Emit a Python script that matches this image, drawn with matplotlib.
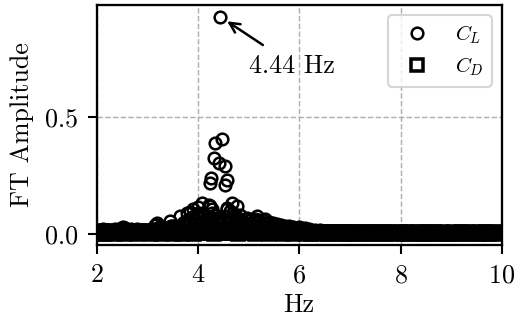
import numpy as np
import matplotlib
matplotlib.use("Agg")
import matplotlib.pyplot as plt

plt.rcParams["font.family"] = "serif"
plt.rcParams["font.serif"] = ["cmr10", "DejaVu Serif"]
plt.rcParams["mathtext.fontset"] = "cm"
plt.rcParams["axes.formatter.use_mathtext"] = True
plt.rcParams["font.size"] = 12

# FFT bins between 2 and 10 Hz
freq = np.round(np.linspace(2.0, 10.0, 201), 2)

# lift coefficient spectrum
cl_amp = [
    0.018, 0.009, 0.014, 0.020, 0.011, 0.016, 0.019, 0.008, 0.015, 0.021, 0.012, 0.017, 0.027,
    0.031, 0.024, 0.013, 0.019, 0.022, 0.010, 0.018, 0.020, 0.014, 0.019, 0.011, 0.016,
    0.015, 0.009, 0.017, 0.022, 0.038, 0.046, 0.028, 0.017, 0.021, 0.013, 0.024, 0.031, 0.035,
    0.022, 0.018, 0.029, 0.036, 0.044, 0.050, 0.041, 0.062, 0.058, 0.071, 0.064, 0.083,
    0.092, 0.071, 0.055, 0.078, 0.046, 0.063, 0.052, 0.088, 0.041, 0.066, 0.058, 0.072, 0.049,
    0.061, 0.079, 0.054, 0.097, 0.062, 0.075, 0.058, 0.068, 0.052, 0.061, 0.046, 0.058,
    0.064, 0.049, 0.057, 0.066, 0.052, 0.061, 0.044, 0.058, 0.063, 0.047, 0.052, 0.041, 0.046,
    0.038, 0.043, 0.034, 0.039, 0.031, 0.036, 0.028, 0.033, 0.026, 0.030, 0.022, 0.027,
    0.029, 0.024, 0.021, 0.025, 0.018, 0.022, 0.019, 0.015, 0.017, 0.012, 0.016, 0.014, 0.010,
    0.015, 0.013, 0.009, 0.014, 0.012, 0.015, 0.008, 0.013, 0.011, 0.014, 0.009, 0.012,
    0.013, 0.010, 0.007, 0.012, 0.009, 0.013, 0.006, 0.011, 0.010, 0.012, 0.008, 0.013, 0.009,
    0.011, 0.007, 0.012, 0.010, 0.013, 0.008, 0.011, 0.009, 0.012, 0.006, 0.010, 0.012,
    0.009, 0.011, 0.007, 0.012, 0.010, 0.008, 0.012, 0.009, 0.011, 0.006, 0.010, 0.012, 0.008,
    0.011, 0.009, 0.012, 0.007, 0.010, 0.011, 0.008, 0.012, 0.009, 0.010, 0.006, 0.011,
    0.010, 0.008, 0.011, 0.009, 0.012, 0.007, 0.010, 0.011, 0.008, 0.012, 0.009, 0.010, 0.006,
    0.011, 0.009, 0.012, 0.008, 0.010, 0.011, 0.007, 0.010, 0.012, 0.008, 0.011, 0.009,
    0.010,
]

# drag coefficient spectrum
cd_amp = [
    0.008, 0.002, 0.011, 0.005, 0.001, 0.009, 0.004, 0.012, 0.006, 0.002, 0.010, 0.003, 0.013,
    0.007, 0.001, 0.009, 0.005, 0.011, 0.003, 0.008, 0.002, 0.012, 0.006, 0.004, 0.010,
    0.005, 0.011, 0.002, 0.008, 0.012, 0.004, 0.009, 0.001, 0.013, 0.006, 0.003, 0.010, 0.007,
    0.002, 0.012, 0.005, 0.009, 0.001, 0.011, 0.006, 0.003, 0.010, 0.008, 0.002, 0.012,
    0.006, 0.013, 0.003, 0.010, 0.007, 0.015, 0.004, 0.011, 0.002, 0.014, 0.008, 0.005, 0.012,
    0.003, 0.016, 0.009, 0.006, 0.013, 0.004, 0.011, 0.002, 0.014, 0.007, 0.010, 0.005,
    0.011, 0.004, 0.009, 0.002, 0.012, 0.006, 0.010, 0.003, 0.008, 0.013, 0.001, 0.009, 0.005,
    0.011, 0.003, 0.007, 0.012, 0.002, 0.010, 0.006, 0.004, 0.011, 0.001, 0.008, 0.005,
    0.009, 0.003, 0.007, 0.001, 0.010, 0.005, 0.002, 0.008, 0.004, 0.009, 0.001, 0.006, 0.003,
    0.008, 0.002, 0.007, 0.004, 0.009, 0.001, 0.006, 0.003, 0.008, 0.002, 0.005, 0.007,
    0.002, 0.007, 0.004, 0.001, 0.008, 0.003, 0.006, 0.002, 0.005, 0.008, 0.001, 0.004, 0.007,
    0.003, 0.006, 0.001, 0.005, 0.008, 0.002, 0.004, 0.007, 0.003, 0.001, 0.006, 0.004,
    0.007, 0.002, 0.005, 0.008, 0.001, 0.004, 0.006, 0.003, 0.008, 0.002, 0.005, 0.001, 0.007,
    0.004, 0.002, 0.006, 0.008, 0.003, 0.001, 0.005, 0.007, 0.002, 0.004, 0.006, 0.001,
    0.005, 0.008, 0.002, 0.006, 0.003, 0.007, 0.001, 0.004, 0.008, 0.002, 0.006, 0.003, 0.005,
    0.001, 0.007, 0.004, 0.002, 0.008, 0.005, 0.001, 0.006, 0.003, 0.007, 0.002, 0.004,
    0.005,
]

# lift amplitudes around the shedding peak
peak_freq = [4.44, 4.47, 4.34, 4.32, 4.42, 4.53, 4.25, 4.23, 4.57, 4.53, 4.08, 4.21,
             4.67, 4.77, 4.24, 4.30, 4.57, 4.08, 4.27, 4.34, 4.57, 4.70, 4.63, 4.83,
             4.96, 5.16, 3.91, 3.78, 3.65, 3.45, 4.00, 3.84, 3.19, 3.47]
peak_amp = [0.93, 0.408, 0.39, 0.326, 0.304, 0.29, 0.24, 0.219, 0.233, 0.21, 0.133, 0.126,
            0.133, 0.119, 0.119, 0.069, 0.112, 0.09, 0.105, 0.083, 0.105, 0.09, 0.069, 0.083,
            0.069, 0.076, 0.105, 0.09, 0.076, 0.055, 0.117, 0.096, 0.045, 0.034]

cl_f = np.concatenate([freq, peak_freq])
cl_a = np.concatenate([cl_amp, peak_amp])

fig = plt.figure(figsize=(516 / 150, 324 / 150), dpi=150)
ax = fig.add_axes([96.5 / 516, 1 - 245 / 324, (502 - 96.5) / 516, (245 - 5) / 324])

ax.plot(cl_f, cl_a, linestyle="none", marker="o", mfc="none", mec="black",
        mew=1.2, ms=5.6, label=r"$C_L$")
ax.plot(freq, cd_amp, linestyle="none", marker="s", mfc="none", mec="black",
        mew=1.7, ms=5.4, label=r"$C_D$")

i_max = int(np.argmax(cl_a))
f_max, a_max = cl_f[i_max], cl_a[i_max]
ax.annotate("", xy=(f_max, a_max), xytext=(20.5, -13.6), textcoords="offset points",
            arrowprops=dict(arrowstyle="->", lw=1.2, color="black", shrinkA=0, shrinkB=4))
ax.annotate(f"{f_max:.2f} Hz", xy=(f_max, a_max), xytext=(13.9, -26.9),
            textcoords="offset points", ha="left", va="baseline", fontsize=12.5)

ax.set_xlim(2, 10)
ax.set_ylim(-0.047, 0.98)
ax.set_xticks([2, 4, 6, 8, 10])
ax.set_yticks([0.0, 0.5])
ax.yaxis.set_major_formatter(matplotlib.ticker.FormatStrFormatter("%.1f"))
ax.grid(True, linestyle="--", color="#b0b0b0", lw=0.7)
ax.set_axisbelow(True)
ax.tick_params(direction="out", length=4.5, width=1.0, labelsize=12.5, pad=4.5)
for s in ax.spines.values():
    s.set_linewidth(1.1)

ax.set_xlabel("Hz", fontsize=12.5, labelpad=3)
ax.set_ylabel("FT Amplitude", fontsize=12.5, labelpad=5)
ax.legend(loc="upper right", fontsize=10, labelspacing=0.45)

fig.savefig("out.png", dpi=150)
